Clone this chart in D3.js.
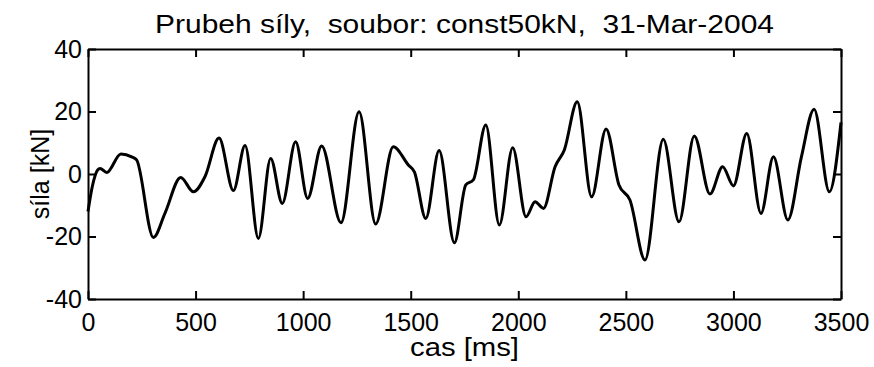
<!DOCTYPE html>
<html>
<head>
<meta charset="utf-8">
<script src="https://cdn.jsdelivr.net/npm/d3@7"></script>
<style>
  body { margin: 0; background: #fff; }
  svg { display: block; font-family: "Liberation Sans", Arial, Helvetica, sans-serif; }
</style>
</head>
<body>
<svg id="chart"></svg>
<script>
//  data: time [ms] and force [kN]
const cas_ms = [0, 20, 45, 56, 87, 153, 203, 226, 304, 358, 431, 490, 544, 609, 676, 730, 792, 849,
  903, 965, 1021, 1086, 1176, 1260, 1337, 1419, 1489, 1517, 1570, 1632, 1703, 1756, 1791, 1849,
  1912, 1974, 2036, 2078, 2117, 2171, 2214, 2274, 2341, 2408, 2468, 2519, 2589, 2674, 2747, 2818,
  2891, 2950, 3000, 3062, 3128, 3186, 3253, 3316, 3375, 3446, 3500];
const sila_kN = [-12, -4, 1.3, 1.8, 0.5, 6.4, 5.5, 4.5, -20.3, -12.5, -1.1, -5.7, -0.8, 11.5, -5.3, 9.1, -20.6, 5.0,
  -9.4, 10.3, -7.8, 9.0, -15.6, 19.9, -16, 8.7, 2.9, 0.7, -14.2, 7.5, -22, -3.5, -1.9, 15.7,
  -16.3, 8.4, -13.7, -8.9, -11, 2.3, 7.7, 23.1, -7.3, 14.4, -3.5, -8.3, -27.5, 11.1, -15.3, 12.2,
  -6.4, 2.3, -3.8, 13, -12.6, 5.5, -14.7, 5.5, 20.7, -5.7, 16.5];

const x_ticks = [0, 500, 1000, 1500, 2000, 2500, 3000, 3500];
const y_ticks = [-40, -20, 0, 20, 40];

const title_text = "Prubeh síly,  soubor: const50kN,  31-Mar-2004";
const xlabel_text = "cas [ms]";
const ylabel_text = "síla [kN]";

function draw_chart() {
  const w = 874;
  const h = 367;
  const margin = ({top: 49, right: 33, bottom: 68, left: 88});
  const fs = 25;

  const svg = d3.select("#chart").attr("width", w).attr("height", h);
  svg.selectAll("*").remove();

  const x = d3.scaleLinear().domain([0, 3500]).range([margin.left, w - margin.right]);
  const y = d3.scaleLinear().domain([-40, 40]).range([h - margin.bottom, margin.top]);

  //  plain hyphen for negative numbers, like matlab
  const fmt = d => d.toString();

  //  axes (ticks inside, like matlab)
  const style_axis = g => {
    g.select(".domain").attr("stroke", "#000").attr("stroke-width", 2);
    g.selectAll(".tick line").attr("stroke", "#000").attr("stroke-width", 2);
    g.selectAll(".tick text").attr("fill", "#000").style("font-size", fs + "px");
  };

  svg.append("g")
     .attr("transform", `translate(0,${y(-40)})`)
     .call(d3.axisBottom(x).tickValues(x_ticks).tickSize(-8).tickSizeOuter(0).tickPadding(14).tickFormat(fmt))
     .call(style_axis);

  svg.append("g")
     .attr("transform", `translate(0,${y(40)})`)
     .call(d3.axisTop(x).tickValues(x_ticks).tickSize(-8).tickSizeOuter(0).tickFormat(""))
     .call(style_axis);

  svg.append("g")
     .attr("transform", `translate(${x(0)},0)`)
     .call(d3.axisLeft(y).tickValues(y_ticks).tickSize(-8).tickSizeOuter(0).tickPadding(6).tickFormat(fmt))
     .call(style_axis);

  svg.append("g")
     .attr("transform", `translate(${x(3500)},0)`)
     .call(d3.axisRight(y).tickValues(y_ticks).tickSize(-8).tickSizeOuter(0).tickFormat(""))
     .call(style_axis);

  //  force curve
  const line = d3.line()
    .x((d, i) => x(cas_ms[i]))
    .y(d => y(d))
    .curve(d3.curveMonotoneX);

  svg.append("path")
     .datum(sila_kN)
     .attr("d", line)
     .attr("fill", "none")
     .attr("stroke", "#000")
     .attr("stroke-width", 3)
     .attr("stroke-linejoin", "round");

  //  texts (reference glyphs are a bit wider than the font)
  svg.append("text")
     .attr("x", (x(0) + x(3500)) / 2)
     .attr("y", 33)
     .attr("text-anchor", "middle")
     .attr("textLength", 619)
     .attr("lengthAdjust", "spacingAndGlyphs")
     .style("white-space", "pre")
     .style("font-size", "26px")
     .text(title_text);

  svg.append("text")
     .attr("x", (x(0) + x(3500)) / 2)
     .attr("y", 356)
     .attr("text-anchor", "middle")
     .attr("textLength", 109)
     .attr("lengthAdjust", "spacingAndGlyphs")
     .style("font-size", fs + "px")
     .text(xlabel_text);

  svg.append("text")
     .attr("transform", `translate(49,${y(0)}) rotate(-90)`)
     .attr("text-anchor", "middle")
     .style("font-size", fs + "px")
     .text(ylabel_text);
}

draw_chart();
</script>
</body>
</html>
